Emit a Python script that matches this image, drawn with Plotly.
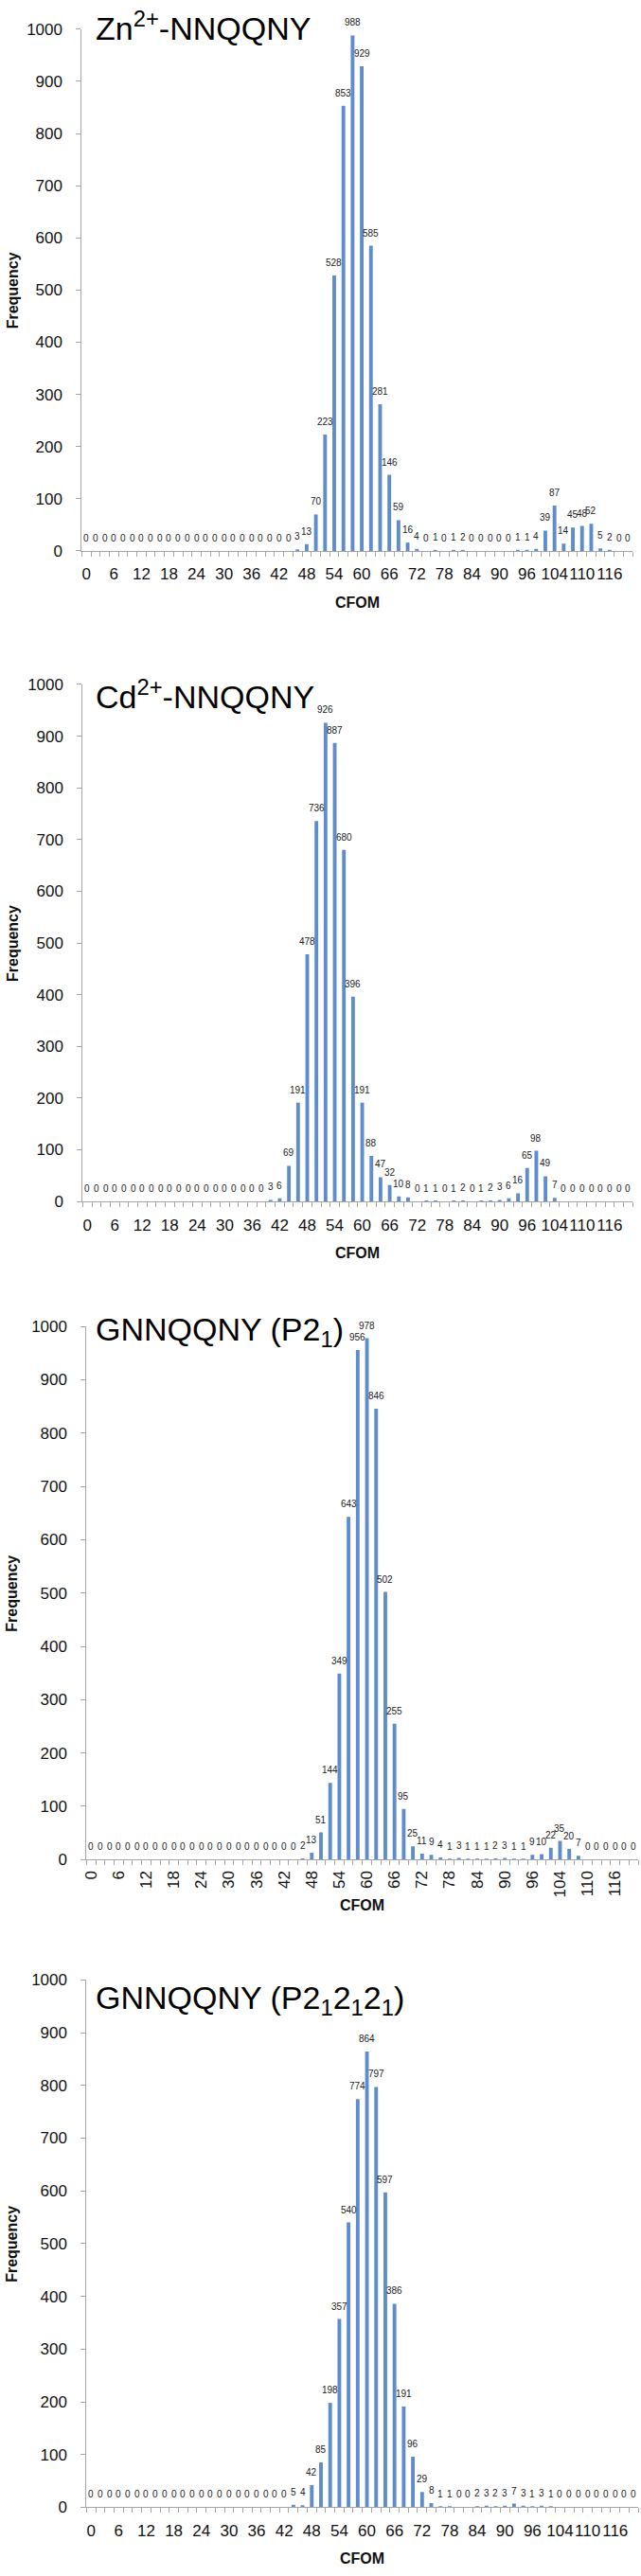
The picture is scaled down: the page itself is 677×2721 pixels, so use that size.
import plotly.graph_objects as go

# ---------------- data ----------------
categories = ["0", "2", "4", "6", "8", "10", "12", "14", "16", "18",
              "20", "22", "24", "26", "28", "30", "32", "34", "36", "38",
              "40", "42", "44", "46", "48", "50", "52", "54", "56", "58",
              "60", "62", "64", "66", "68", "70", "72", "74", "76", "78",
              "80", "82", "84", "86", "88", "90", "92", "94", "96", "98",
              "100", "104", "106", "108", "110", "112", "114", "116", "118", "120"]

zn_nnqqny = [0, 0, 0, 0, 0, 0, 0, 0, 0, 0,
             0, 0, 0, 0, 0, 0, 0, 0, 0, 0,
             0, 0, 0, 3, 13, 70, 223, 528, 853, 988,
             929, 585, 281, 146, 59, 16, 4, 0, 1, 0,
             1, 2, 0, 0, 0, 0, 0, 1, 1, 4,
             39, 87, 14, 45, 48, 52, 5, 2, 0, 0]

cd_nnqqny = [0, 0, 0, 0, 0, 0, 0, 0, 0, 0,
             0, 0, 0, 0, 0, 0, 0, 0, 0, 0,
             3, 6, 69, 191, 478, 736, 926, 887, 680, 396,
             191, 88, 47, 32, 10, 8, 0, 1, 1, 0,
             1, 2, 0, 1, 2, 3, 6, 16, 65, 98,
             49, 7, 0, 0, 0, 0, 0, 0, 0, 0]

gnnqqny_p21 = [0, 0, 0, 0, 0, 0, 0, 0, 0, 0,
               0, 0, 0, 0, 0, 0, 0, 0, 0, 0,
               0, 0, 0, 2, 13, 51, 144, 349, 643, 956,
               978, 846, 502, 255, 95, 25, 11, 9, 4, 1,
               3, 1, 1, 1, 2, 3, 1, 1, 9, 10,
               22, 35, 20, 7, 0, 0, 0, 0, 0, 0]

gnnqqny_p212121 = [0, 0, 0, 0, 0, 0, 0, 0, 0, 0,
                   0, 0, 0, 0, 0, 0, 0, 0, 0, 0,
                   0, 0, 5, 4, 42, 85, 198, 357, 540, 774,
                   864, 797, 597, 386, 191, 96, 29, 8, 1, 1,
                   0, 0, 2, 3, 2, 3, 7, 3, 1, 3,
                   1, 0, 0, 0, 0, 0, 0, 0, 0, 0]

panel_titles = ["Zn<sup>2+</sup>-NNQQNY",
                "Cd<sup>2+</sup>-NNQQNY",
                "GNNQQNY (P2<sub>1</sub>)",
                "GNNQQNY (P2<sub>1</sub>2<sub>1</sub>2<sub>1</sub>)"]
series = [zn_nnqqny, cd_nnqqny, gnnqqny_p21, gnnqqny_p212121]
y_ticks = [0, 100, 200, 300, 400, 500, 600, 700, 800, 900, 1000]
x_label_step = 3
x_title = "CFOM"
y_title = "Frequency"

# ---------------- layout geometry (pixels) ----------------
W, H = 677, 2721
geom = [
    dict(x0=82, x1=668, ytop=22, ybot=577, title_y=19, cfom_y=632, rot=False),
    dict(x0=83, x1=668, ytop=719, ybot=1269, title_y=730, cfom_y=1324, rot=False),
    dict(x0=87, x1=674, ytop=1402, ybot=1969, title_y=1407, cfom_y=2018, rot=True),
    dict(x0=87, x1=674, ytop=2097, ybot=2658, title_y=2118, cfom_y=2712, rot=False),
]

BAR = "#5f8ccc"
AX = "#a6a6a6"
FONT = "Liberation Sans, Arial, sans-serif"
TICKFONT = dict(family=FONT, size=17, color="#111111")
LABELFONT = dict(family=FONT, size=10, color="#222222")

fig = go.Figure()
annotations = []
idx = list(range(len(categories)))

for k, (vals, g, ttl) in enumerate(zip(series, geom, panel_titles)):
    n = "" if k == 0 else str(k + 1)
    xa, ya = "x" + n, "y" + n
    fig.add_trace(go.Bar(x=idx, y=vals, marker=dict(color=BAR, line=dict(width=0)),
                         xaxis=xa, yaxis=ya, showlegend=False, hoverinfo="x+y"))
    dom_x = [g["x0"] / W, g["x1"] / W]
    dom_y = [1 - g["ybot"] / H, 1 - g["ytop"] / H]
    tv = idx[::x_label_step]
    fig.layout["xaxis" + n] = dict(
        domain=dom_x, anchor=ya, range=[-0.5, len(categories) - 0.5],
        tickmode="array", tickvals=tv, ticktext=[categories[i] for i in tv],
        ticks="", showline=True, linecolor=AX, linewidth=1, showgrid=False, zeroline=False,
        tickfont=TICKFONT, tickangle=-90 if g["rot"] else 0,
        ticklabelstandoff=4 if g["rot"] else 9,
        minor=dict(tickmode="linear", tick0=-0.5, dtick=1, ticks="outside", ticklen=5,
                   tickcolor=AX, tickwidth=1, showgrid=False),
    )
    fig.layout["yaxis" + n] = dict(
        domain=dom_y, anchor=xa, range=[0, 1000],
        tickmode="array", tickvals=y_ticks, ticks="outside", ticklen=5, tickcolor=AX,
        showline=True, linecolor=AX, linewidth=1, showgrid=False, zeroline=False,
        tickfont=TICKFONT, ticklabelstandoff=11,
    )
    # data labels
    for i, v in zip(idx, vals):
        annotations.append(dict(x=i, y=v, xref=xa, yref=ya, text=str(v), showarrow=False,
                                yanchor="bottom", xanchor="center", yshift=6,
                                font=LABELFONT))
    # panel title
    annotations.append(dict(x=95 / W, y=1 - g["title_y"] / H, xref="paper", yref="paper",
                            text=ttl, showarrow=False, xanchor="left", yanchor="middle",
                            font=dict(family=FONT, size=34, color="black")))
    # axis titles
    annotations.append(dict(x=(g["x0"] + g["x1"]) / 2 / W, y=1 - g["cfom_y"] / H,
                            xref="paper", yref="paper", text="<b>" + x_title + "</b>",
                            showarrow=False, xanchor="center", yanchor="middle",
                            font=dict(family=FONT, size=16, color="#111111")))
    annotations.append(dict(x=8 / W, y=1 - (g["ytop"] + g["ybot"]) / 2 / H,
                            xref="paper", yref="paper", text="<b>" + y_title + "</b>",
                            textangle=-90, showarrow=False, xanchor="center", yanchor="middle",
                            font=dict(family=FONT, size=16, color="#111111")))

fig.update_layout(width=W, height=H, margin=dict(l=0, r=0, t=0, b=0),
                  paper_bgcolor="white", plot_bgcolor="white", bargap=0.6,
                  annotations=annotations, showlegend=False)

fig.write_html("out.html", config={"displayModeBar": False},
               post_script="document.body.style.margin='0';document.body.style.padding='0';"
                           "document.body.style.overflow='hidden';")
